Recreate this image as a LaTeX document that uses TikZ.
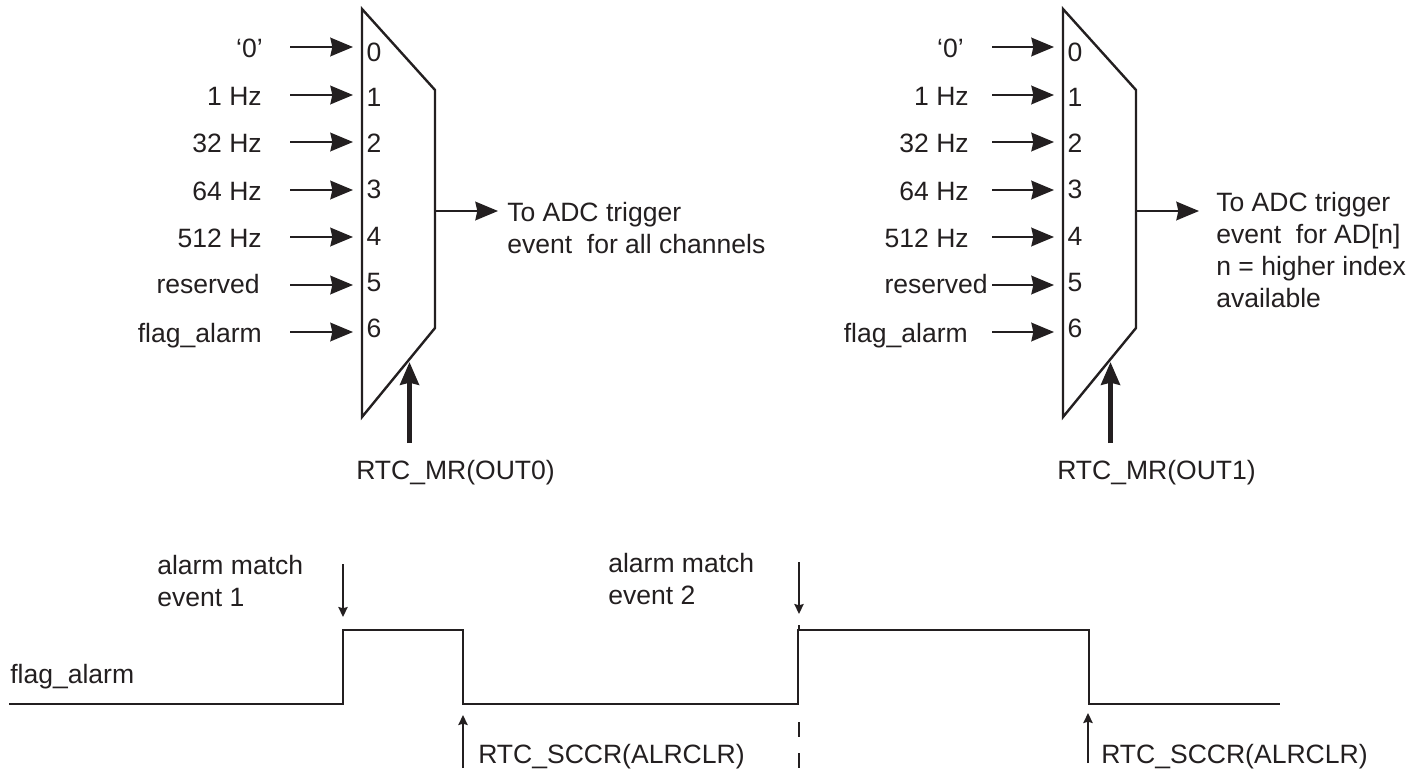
\documentclass[tikz,border=0pt]{standalone}
\usepackage{fontspec}
\setmainfont{Liberation Sans}
\usetikzlibrary{arrows.meta, positioning}
\definecolor{figink}{RGB}{35,31,32}
\tikzset{
    sigtext/.style={font=\fontsize{19.9}{24}\selectfont, text=figink, inner sep=0pt},
    inlabel/.style={sigtext, anchor=base east},
    notetext/.style={sigtext, anchor=base west, align=left},
    muxbody/.style={draw=figink, line width=1.8pt, line join=miter},
    wave/.style={draw=figink, line width=2pt, line join=miter},
}
\tikzstyle{arrow} = [-{Stealth[length=17pt, width=14pt, inset=1.5pt]}, line width=1.5pt, draw=figink]
\tikzstyle{selarrow} = [-{Stealth[length=17pt, width=14pt, inset=1.5pt]}, line width=3.6pt, draw=figink]
\tikzstyle{evarrow} = [-{Stealth[length=7.5pt, width=7pt, inset=1pt]}, line width=1.3pt, draw=figink]

\begin{document}
\begin{tikzpicture}[x=0.75pt, y=-0.75pt]
    \useasboundingbox (0,0) rectangle (1425,772);

    % multiplexers
    \foreach \mux/\off in {A/0, B/701} {
        \coordinate (\mux-nw) at (362+\off,9);
        \coordinate (\mux-ne) at (435+\off,90);
        \coordinate (\mux-se) at (435+\off,328);
        \coordinate (\mux-sw) at (362+\off,417);
        \draw[muxbody] (\mux-nw) -- (\mux-ne) -- (\mux-se) -- (\mux-sw) -- cycle;
        \foreach \idx/\ypos in {0/52, 1/97, 2/143, 3/189, 4/236, 5/282, 6/328} {
            \node[sigtext] (\mux-d\idx) at (374+\off,\ypos) {\idx};
        }
    }

    % inputs
    \foreach \idx/\txt/\ypos/\xend/\ybase in {0/‘0’/47/263/57, 1/1 Hz/95/262/105, 2/32 Hz/142/262/152,
            3/64 Hz/190/262/200, 4/512 Hz/237/262/247, 5/reserved/285/260/293, 6/flag\_alarm/332/262/342} {
        \node[inlabel] (A-in\idx) at (\xend,\ybase) {\txt};
        \coordinate (A-st\idx) at (290,\ypos);
        \draw[arrow, shorten >=6.75pt] (A-st\idx) -- (A-st\idx -| A-nw);
    }
    \foreach \idx/\txt/\ypos/\xend/\ybase in {0/‘0’/47/964/57, 1/1 Hz/95/969/105, 2/32 Hz/142/969/152,
            3/64 Hz/190/969/200, 4/512 Hz/237/969/247, 5/reserved/285/988/293, 6/flag\_alarm/332/968/342} {
        \node[inlabel] (B-in\idx) at (\xend,\ybase) {\txt};
        \coordinate (B-st\idx) at (992,\ypos);
        \draw[arrow, shorten >=6.75pt] (B-st\idx) -- (B-st\idx -| B-nw);
    }

    % outputs
    \coordinate (A-out) at (A-ne |- 0,211);
    \coordinate (B-out) at (B-ne |- 0,211);
    \coordinate (A-outtip) at (498,211);
    \coordinate (B-outtip) at (1199,211);
    \draw[arrow] (A-out) -- (A-outtip);
    \draw[arrow] (B-out) -- (B-outtip);
    \node[notetext] (A-note) at (507,253)
        {To ADC trigger\\event\ \ for all channels};
    \node[notetext] (B-note) at (1216,307)
        {To ADC trigger\\event\ \ for AD[n]\\n = higher index\\available};

    % selects
    \node[sigtext, anchor=base west] (A-sel) at (356,479) {RTC\_MR(OUT0)};
    \node[sigtext, anchor=base west] (B-sel) at (1057,479) {RTC\_MR(OUT1)};
    \coordinate (A-tip) at (409.5,362);
    \coordinate (B-tip) at (1110.5,362);
    \coordinate (A-foot) at (409.5,443);
    \coordinate (B-foot) at (1110.5,443);
    \draw[selarrow] (A-foot) -- (A-tip);
    \draw[selarrow] (B-foot) -- (B-tip);

    % timing
    \coordinate (w0) at (9,704);
    \coordinate (w1) at (343,704);
    \coordinate (w2) at (343,630);
    \coordinate (w3) at (463,630);
    \coordinate (w4) at (463,704);
    \coordinate (w5) at (798,704);
    \coordinate (w6) at (798,630);
    \coordinate (w7) at (1089,630);
    \coordinate (w8) at (1089,704);
    \coordinate (w9) at (1280,704);
    \draw[wave] (w0) -- (w1) -- (w2) -- (w3) -- (w4) -- (w5) -- (w6) -- (w7) -- (w8) -- (w9);
    \node[sigtext, anchor=base west] (wname) at (10,683) {flag\_alarm};

    \node[notetext] (ev1) at (157,606) {alarm match\\event 1};
    \node[notetext] (ev2) at (608,604) {alarm match\\event 2};
    \coordinate (ev1-top) at (343,564);
    \coordinate (ev1-tip) at (343,617);
    \coordinate (ev2-top) at (799,562);
    \coordinate (ev2-tip) at (799,614);
    \draw[evarrow] (ev1-top) -- (ev1-tip);
    \draw[evarrow] (ev2-top) -- (ev2-tip);

    \node[sigtext, anchor=base west] (clr1) at (478,763) {RTC\_SCCR(ALRCLR)};
    \node[sigtext, anchor=base west] (clr2) at (1101,763) {RTC\_SCCR(ALRCLR)};
    \coordinate (clr1-bot) at (463,768);
    \coordinate (clr1-tip) at (463,715);
    \coordinate (clr2-bot) at (1088,763);
    \coordinate (clr2-tip) at (1088,713);
    \draw[evarrow] (clr1-bot) -- (clr1-tip);
    \draw[evarrow] (clr2-bot) -- (clr2-tip);

    \coordinate (tick-top) at (799,625);
    \coordinate (dash-top) at (799,722);
    \coordinate (dash-bot) at (799,769);
    \draw[figink, line width=0.8pt] (tick-top) -- (tick-top |- w6);
    \draw[figink, line width=0.8pt, dash pattern=on 11.25pt off 12pt] (dash-top) -- (dash-bot);
\end{tikzpicture}
\end{document}
